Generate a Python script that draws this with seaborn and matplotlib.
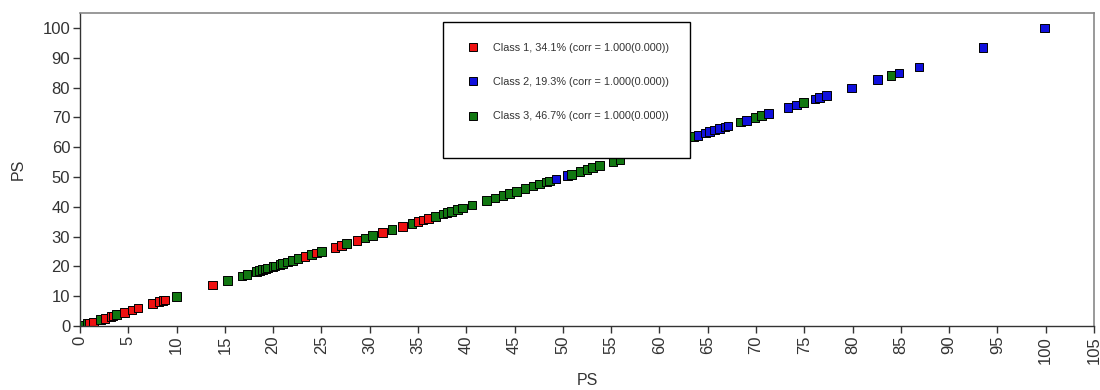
import numpy as np
import pandas as pd
import seaborn as sns
import matplotlib.pyplot as plt
from matplotlib.patches import Rectangle

# PS values per class (x and y are the same variable, so points sit on y = x)
class1_ps = [0.3, 1.0, 1.4, 2.6, 3.2, 3.4, 4.6, 5.4, 6.0, 7.5, 8.2, 8.6, 8.8,
             13.7, 23.3, 24.5, 26.4, 27.1, 28.7, 31.3, 33.4, 35.0, 35.5, 36.1]
class2_ps = [49.3, 50.5, 58.0, 61.0, 64.0, 64.8, 65.2, 65.7, 66.2, 66.8,
             67.1, 69.0, 71.3, 73.3, 74.2, 76.1, 76.6, 77.3, 79.9, 82.6,
             84.8, 86.9, 93.5, 99.9]
class3_ps = [0.3, 0.8, 2.1, 3.8, 10.0, 15.3, 16.8, 17.3, 18.3, 18.6, 18.9,
             19.2, 19.4, 20.0, 20.2, 20.7, 21.0, 21.5, 22.0, 22.6, 24.0, 25.0,
             27.6, 29.5, 30.3, 32.3, 34.4, 36.8, 37.6, 38.0, 38.5, 39.1, 39.6,
             40.6, 42.1, 43.0, 43.8, 44.5, 45.2, 46.1, 46.9, 47.6, 48.3, 48.6,
             50.9, 51.8, 52.5, 53.1, 53.8, 55.2, 55.9, 57.8, 59.5, 62.5, 63.6,
             68.4, 69.9, 70.6, 74.9, 84.0]

labels = ["Class 1, 34.1% (corr = 1.000(0.000))",
          "Class 2, 19.3% (corr = 1.000(0.000))",
          "Class 3, 46.7% (corr = 1.000(0.000))"]
colors = ["#ee1111", "#1010dd", "#117711"]

x_ticks = list(range(0, 106, 5))
y_ticks = list(range(0, 101, 10))

rows = []
for lab, vals in zip(labels, [class1_ps, class2_ps, class3_ps]):
    for v in vals:
        rows.append({"PS_x": v, "PS_y": v, "Class": lab})
df = pd.DataFrame(rows).sort_values("PS_x").reset_index(drop=True)

sns.set_style("white")
plt.rcParams["font.family"] = ["Liberation Sans", "DejaVu Sans"]

fig = plt.figure(figsize=(11, 3.9), dpi=100)
ax = fig.add_axes([0.0727, 0.164, 0.9218, 0.8027])

sns.scatterplot(x="PS_x", y="PS_y", hue="Class", data=df, ax=ax,
                palette=dict(zip(labels, colors)), hue_order=labels,
                marker="s", s=38, edgecolor="black", linewidth=0.7,
                zorder=2)

ax.set_xlim(0, 105)
ax.set_ylim(0, 105)
ax.set_xticks(x_ticks)
ax.set_yticks(y_ticks)
ax.set_xticklabels([str(t) for t in x_ticks], rotation=90)
ax.tick_params(axis="both", direction="out", length=5, width=1,
               color="#333333", labelsize=12, labelcolor="#333333",
               left=True, bottom=True, pad=2)

for side in ["left", "bottom"]:
    ax.spines[side].set_color("#333333")
    ax.spines[side].set_linewidth(1.0)
for side in ["top", "right"]:
    ax.spines[side].set_color("#888888")
    ax.spines[side].set_linewidth(1.2)

ax.set_xlabel("PS", fontsize=11.5, color="#333333", labelpad=7)
ax.set_ylabel("PS", fontsize=11.5, color="#333333", labelpad=12)

# legend box (opaque, covers the points beneath)
ax.add_patch(Rectangle((0.358, 0.537), 0.2436, 0.434, transform=ax.transAxes,
                       facecolor="white", edgecolor="black", linewidth=1.0,
                       zorder=5, clip_on=False))
handles, labs = ax.get_legend_handles_labels()
leg = ax.legend(handles, labs, loc="upper left",
                bbox_to_anchor=(0.377, 0.905), frameon=False, fontsize=7.8,
                labelspacing=2.25, borderpad=0, borderaxespad=0,
                handletextpad=0.8, markerscale=1.0)
leg.set_zorder(6)
for t in leg.get_texts():
    t.set_color("#333333")

plt.savefig("out.png", dpi=100)
plt.close()
